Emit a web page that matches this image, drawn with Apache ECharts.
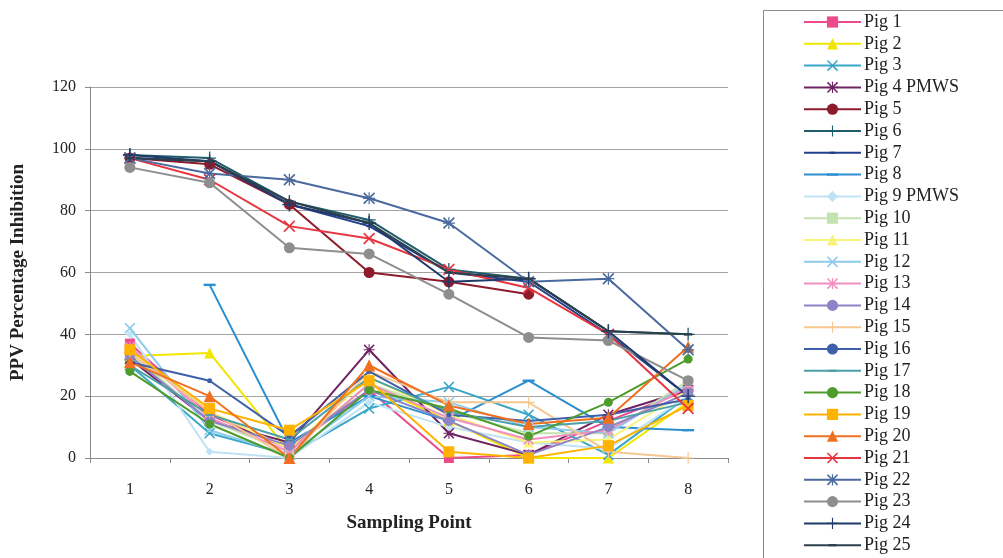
<!DOCTYPE html>
<html>
<head>
<meta charset="utf-8">
<script src="https://cdn.jsdelivr.net/npm/echarts@6/dist/echarts.min.js"></script>
<style>
html,body{margin:0;padding:0;background:#fff;}
#chart{width:1003px;height:558px;}
</style>
</head>
<body>
<div id="chart"></div>
<script>
// Sampling points on the x axis
const samplingPoints = ['1', '2', '3', '4', '5', '6', '7', '8'];
const yTicks = [0, 20, 40, 60, 80, 100, 120];

// PPV percentage inhibition per pig at each sampling point (null = no sample)
const pig1  = [37, 14, 3, 22, 0, 1, 12, 22];
const pig2  = [33, 34, 2, 24, 12, 0, 0, 18];
const pig3  = [30, 8, 1, 16, 23, 14, 1, 20];
const pig4  = [32, 12, 5, 35, 8, 1, 14, 22];
const pig5  = [97, 95, 82, 60, 57, 53, null, null];
const pig6  = [98, 97, 83, 77, 61, 58, 41, 40];
const pig7  = [97, 96, 82, 75, 60, 57, 40, 20];
const pig8  = [null, 56, 5, 20, 12, 25, 10, 9];
const pig9  = [40, 2, 0, 18, 10, 5, 3, 20];
const pig10 = [34, 12, 2, 24, 15, 8, 8, 25];
const pig11 = [35, 15, 3, 26, 14, 5, 6, 22];
const pig12 = [42, 9, 1, 20, 18, 10, 8, 24];
const pig13 = [36, 13, 2, 24, 13, 6, 9, 23];
const pig14 = [33, 12, 4, 22, 12, 1, 10, 21];
const pig15 = [34, 15, 0, 28, 18, 18, 2, 0];
const pig16 = [31, 25, 7, 28, 14, 12, 14, 19];
const pig17 = [30, 14, 6, 26, 15, 10, 12, 18];
const pig18 = [28, 11, 0, 22, 16, 7, 18, 32];
const pig19 = [35, 16, 9, 25, 2, 0, 4, 17];
const pig20 = [31, 20, 0, 30, 17, 11, 13, 36];
const pig21 = [97, 90, 75, 71, 61, 55, 40, 16];
const pig22 = [97, 92, 90, 84, 76, 57, 58, 35];
const pig23 = [94, 89, 68, 66, 53, 39, 38, 25];
const pig24 = [98, 96, 82, 76, 57, 58, 41, 20];
const pig25 = [97, 96, 83, 76, 60, 58, 41, 40];

// Marker shapes
const X_SYM = 'path://M0,2 L2,0 L10,8 L18,0 L20,2 L12,10 L20,18 L18,20 L10,12 L2,20 L0,18 L8,10 Z';
const PLUS_SYM = 'path://M9,0 H11 V9 H20 V11 H11 V20 H9 V11 H0 V9 H9 Z';
const STAR_SYM = 'path://M0,2 L2,0 L9,7 L9,0 L11,0 L11,7 L18,0 L20,2 L13,9 L20,9 L20,11 L13,11 L20,18 L18,20 L11,13 L11,20 L9,20 L9,13 L2,20 L0,18 L7,11 L0,11 L0,9 L7,9 Z';
// Dashes inside a square frame, so they keep their shape in the legend too
const DASH_SYM = 'path://M0,0 M20,20 M3,8 H17 V12 H3 Z';
const LONG_DASH_SYM = 'path://M0,0 M20,20 M0,8 H20 V12 H0 Z';
const SHORT_DASH_SYM = 'path://M0,0 M20,20 M5,8 H15 V12 H5 Z';

const pigs = [
  { name: 'Pig 1', data: pig1, color: '#ec4a8a', symbol: 'rect', size: 10 },
  { name: 'Pig 2', data: pig2, color: '#f2e600', symbol: 'triangle', size: 11 },
  { name: 'Pig 3', data: pig3, color: '#3aa6c8', symbol: X_SYM, size: 11 },
  { name: 'Pig 4 PMWS', data: pig4, color: '#6e2463', symbol: STAR_SYM, size: 11 },
  { name: 'Pig 5', data: pig5, color: '#8e1b2c', symbol: 'circle', size: 11 },
  { name: 'Pig 6', data: pig6, color: '#1f5d6b', symbol: PLUS_SYM, size: 13 },
  { name: 'Pig 7', data: pig7, color: '#223f8c', symbol: SHORT_DASH_SYM, size: 11 },
  { name: 'Pig 8', data: pig8, color: '#2b8fd0', symbol: LONG_DASH_SYM, size: 12 },
  { name: 'Pig 9 PMWS', data: pig9, color: '#bfe3f4', symbol: 'diamond', size: 8 },
  { name: 'Pig 10', data: pig10, color: '#c3e3b0', symbol: 'rect', size: 9 },
  { name: 'Pig 11', data: pig11, color: '#f6f27a', symbol: 'triangle', size: 10 },
  { name: 'Pig 12', data: pig12, color: '#8ccbeb', symbol: X_SYM, size: 11 },
  { name: 'Pig 13', data: pig13, color: '#f28fbf', symbol: STAR_SYM, size: 11 },
  { name: 'Pig 14', data: pig14, color: '#8c84c6', symbol: 'circle', size: 10 },
  { name: 'Pig 15', data: pig15, color: '#f4c891', symbol: PLUS_SYM, size: 12 },
  { name: 'Pig 16', data: pig16, color: '#3f5fa8', symbol: 'circle', size: 5 },
  { name: 'Pig 17', data: pig17, color: '#4c9ea8', symbol: DASH_SYM, size: 12 },
  { name: 'Pig 18', data: pig18, color: '#4d9c2c', symbol: 'circle', size: 9 },
  { name: 'Pig 19', data: pig19, color: '#ffb300', symbol: 'rect', size: 11 },
  { name: 'Pig 20', data: pig20, color: '#f0701f', symbol: 'triangle', size: 12 },
  { name: 'Pig 21', data: pig21, color: '#e8343f', symbol: X_SYM, size: 12 },
  { name: 'Pig 22', data: pig22, color: '#4a6a9e', symbol: STAR_SYM, size: 12 },
  { name: 'Pig 23', data: pig23, color: '#8e8e8e', symbol: 'circle', size: 11 },
  { name: 'Pig 24', data: pig24, color: '#1f3a6b', symbol: PLUS_SYM, size: 14 },
  { name: 'Pig 25', data: pig25, color: '#2c3f4c', symbol: DASH_SYM, size: 12 }
];

const FONT = '"Liberation Serif", "DejaVu Serif", serif';

const chart = echarts.init(document.getElementById('chart'), null, { renderer: 'canvas' });

chart.setOption({
  animation: false,
  backgroundColor: '#ffffff',
  textStyle: { fontFamily: FONT },
  grid: { left: 90, right: 275, top: 87, bottom: 100 },
  graphic: [{
    type: 'rect',
    shape: { x: 763.5, y: 10.5, width: 300, height: 600 },
    style: { fill: 'none', stroke: '#8a8a8a', lineWidth: 1 },
    z: 0
  }],
  legend: {
    orient: 'vertical',
    left: 803,
    top: 13,
    padding: 0,
    itemWidth: 57,
    itemHeight: 14,
    itemGap: 3.8,
    textStyle: { fontFamily: FONT, fontSize: 18, color: '#222', lineHeight: 18, padding: [0, 0, 0, -2] },
    data: pigs.map(p => p.name)
  },
  xAxis: {
    type: 'category',
    data: samplingPoints,
    boundaryGap: true,
    name: 'Sampling Point',
    nameLocation: 'middle',
    nameGap: 56,
    nameTextStyle: { fontFamily: FONT, fontSize: 19, fontWeight: 'bold', color: '#222' },
    axisLine: { lineStyle: { color: '#8a8a8a', width: 1 } },
    axisTick: { show: true, length: 5, lineStyle: { color: '#8a8a8a' } },
    axisLabel: { fontFamily: FONT, fontSize: 16, color: '#222', margin: 24 },
    splitLine: { show: false }
  },
  yAxis: {
    type: 'value',
    min: yTicks[0],
    max: yTicks[yTicks.length - 1],
    interval: 20,
    name: 'PPV Percentage Inhibition',
    nameLocation: 'middle',
    nameGap: 62,
    nameTextStyle: { fontFamily: FONT, fontSize: 19, fontWeight: 'bold', color: '#222' },
    axisLine: { show: true, lineStyle: { color: '#8a8a8a', width: 1 } },
    axisTick: { show: true, length: 5, lineStyle: { color: '#8a8a8a' } },
    axisLabel: { fontFamily: FONT, fontSize: 16, color: '#222', margin: 14 },
    splitLine: { show: true, lineStyle: { color: '#a3a3a3', width: 1 } }
  },
  series: pigs.map(p => ({
    name: p.name,
    type: 'line',
    data: p.data,
    symbol: p.symbol,
    symbolSize: p.size,
    showSymbol: true,
    connectNulls: false,
    lineStyle: { color: p.color, width: 2 },
    itemStyle: { color: p.color, borderWidth: 0 },
    emphasis: { disabled: true }
  }))
});
</script>
</body>
</html>
